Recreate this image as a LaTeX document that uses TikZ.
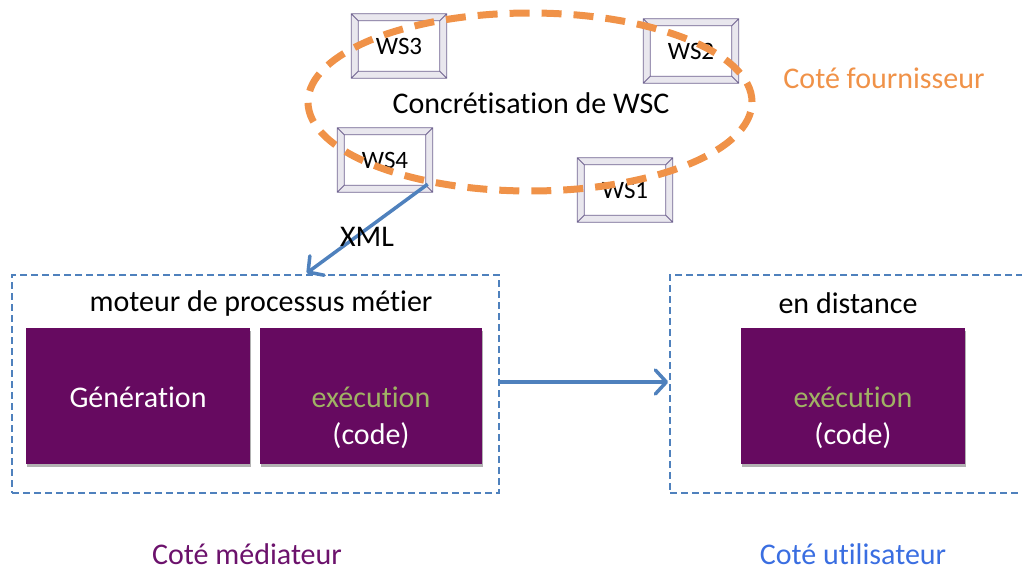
\documentclass[tikz,border=0pt]{standalone}
\usepackage{fontspec}
\setmainfont{Carlito}[Ligatures=NoCommon]
\usetikzlibrary{arrows.meta,calc,shadows}

\definecolor{wsorange}{RGB}{240,146,72}
\definecolor{flowblue}{RGB}{79,129,189}
\definecolor{deeppurple}{RGB}{102,10,96}
\definecolor{olivetext}{RGB}{160,178,100}
\definecolor{framegray}{RGB}{233,231,238}
\definecolor{frameline}{RGB}{112,100,145}
\definecolor{userblue}{RGB}{58,110,225}
\definecolor{medpurple}{RGB}{108,18,108}

% bevelled picture frame around a web-service node
\newcommand\bevelframe[1]{%
  \fill[framegray,even odd rule]
    (#1.north west) rectangle (#1.south east)
    ($(#1.north west)+(7,7)$) rectangle ($(#1.south east)+(-7,-7)$);
  \draw[frameline,line width=0.8pt]
    (#1.north west) rectangle (#1.south east)
    ($(#1.north west)+(7,7)$) rectangle ($(#1.south east)+(-7,-7)$)
    (#1.north west) -- +(7,7)
    (#1.north east) -- +(-7,7)
    (#1.south west) -- +(7,-7)
    (#1.south east) -- +(-7,-7);
}

\begin{document}
\begin{tikzpicture}[x=1pt,y=-1pt,
  txt/.style={inner sep=0pt,font=\fontsize{30}{36}\selectfont},
  wsbox/.style={rectangle,fill=white,inner sep=0pt,minimum width=95pt,minimum height=64pt,
    font=\fontsize{25}{30}\selectfont},
  zone/.style={rectangle,draw=flowblue,line width=1.8pt,dash pattern=on 7pt off 4pt,inner sep=0pt},
  block/.style={rectangle,fill=deeppurple,inner sep=0pt,minimum height=136pt,
    drop shadow={shadow xshift=1pt,shadow yshift=-3pt,opacity=0.3,fill=black}},
  flow/.style={draw=flowblue,line width=3.5pt,
    -{Straight Barb[length=11pt,width=24pt,round]}},
]
\useasboundingbox (0,0) rectangle (1022,570);
\clip (0,0) rectangle (1022,570);

% web services on the provider side
\node[wsbox] (ws3) at (399,46) {WS3};
\node[wsbox] (ws2) at (691,51) {WS2};
\node[wsbox] (ws4) at (385,160) {WS4};
\node[wsbox] (ws1) at (625,190) {WS1};
\bevelframe{ws3}
\bevelframe{ws2}
\bevelframe{ws4}
\bevelframe{ws1}

% composition boundary
\draw[wsorange,line width=7pt,dash pattern=on 20pt off 12pt] (530,102) ellipse [x radius=222pt,y radius=89pt];
\node[txt] (wsc) at (531,103) {Concrétisation de WSC};
\node[txt,text=wsorange] (four) at (884,78) {Coté fournisseur};

% mediator zone
\node[zone,minimum width=487pt,minimum height=218pt] (med) at (255.7,384) {};
\node[txt] (moteur) at (261,303) {moteur de processus métier};
\node[block,minimum width=224pt] (gen) at (138,396) {};
\node[block,minimum width=222pt] (exe) at (371,396) {};
\node[txt,text=white] (gentxt) at ($(gen.center)+(0,1)$) {Génération};
\node[txt,text=olivetext] (exetxt) at ($(exe.center)+(0,1)$) {exécution};
\node[txt,text=white] (execode) at ($(exe.center)+(0,40)$) {(code)};

% remote zone
\node[zone,minimum width=370pt,minimum height=218pt] (dist) at (855,384) {};
\node[txt] (distlbl) at (848,303) {en distance};
\node[block,minimum width=224pt] (rexe) at (853,396) {};
\node[txt,text=olivetext] (rexetxt) at ($(rexe.center)+(0,1)$) {exécution};
\node[txt,text=white] (rexecode) at ($(rexe.center)+(0,40)$) {(code)};

% exchanges
\draw[flow] ($(ws4.south east)+(-5,-8)$) -- ($(med.north)+(51,-1)$);
\node[txt] (xml) at (367,237) {XML};
\draw[flow] ($(med.east)+(0,-2)$) -- ($(dist.west)+(-1,-2)$);

% side captions
\node[txt,text=medpurple,anchor=base] (medlbl) at (247,564) {Coté médiateur};
\node[txt,text=userblue,anchor=base] (userlbl) at (853,564) {Coté utilisateur};
\end{tikzpicture}
\end{document}
